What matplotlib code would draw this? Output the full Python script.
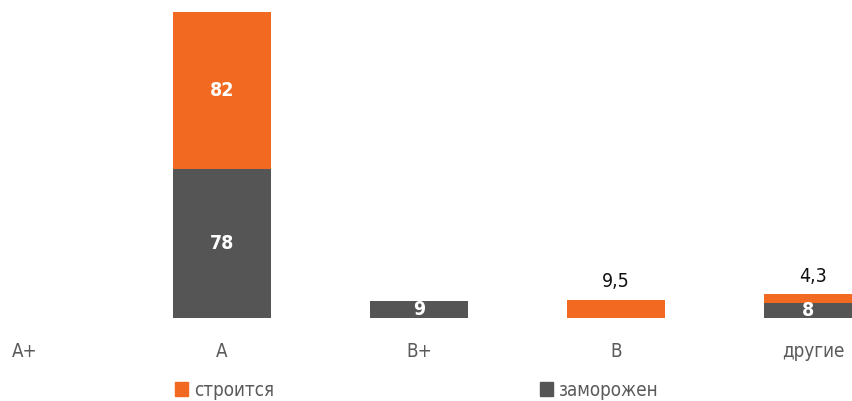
import matplotlib.pyplot as plt
from matplotlib.patches import Patch

categories = ["A+", "A", "B+", "B", "другие"]
frozen = [0, 78, 9, 0, 8]          # заморожен
building = [0, 82, 0, 9.5, 4.3]    # строится

ORANGE = "#F26A22"
GRAY = "#555555"
FONT = dict(family="DejaVu Sans", stretch="condensed")


def fmt(v):
    return "" if v == 0 else f"{v:g}".replace(".", ",")


fig = plt.figure(figsize=(8.52, 4.01), dpi=100)
ax = fig.add_axes([0, 1 - 318 / 401, 1, 306 / 401])

x = range(len(categories))
b1 = ax.bar(x, frozen, width=0.5, color=GRAY)
b2 = ax.bar(x, building, width=0.5, bottom=frozen, color=ORANGE)

ax.bar_label(b1, labels=[fmt(v) for v in frozen], label_type="center",
             color="white", fontsize=14, fontweight="bold", **FONT)
# large orange segments get a label inside, small ones above the bar
inner = [fmt(v) if v > 20 else "" for v in building]
outer = [fmt(v) if 0 < v <= 20 else "" for v in building]
ax.bar_label(b2, labels=inner, label_type="center",
             color="white", fontsize=14, fontweight="bold", **FONT)
ax.bar_label(b2, labels=outer, label_type="edge", padding=6,
             color="#111111", fontsize=14, **FONT)

ax.set_xlim(-0.127, 4.198)
ax.set_ylim(0, 160)
ax.set_xticks(list(x))
ax.set_xticklabels(categories, fontsize=13.5, color="#5a5a5a", **FONT)
ax.tick_params(axis="x", length=0, pad=17)
ax.set_yticks([])
for s in ax.spines.values():
    s.set_visible(False)

handles = [Patch(color=ORANGE, label="строится"),
           Patch(color=GRAY, label="заморожен")]
leg = fig.legend(handles=handles, loc="center", ncol=2,
                 bbox_to_anchor=(417 / 852, 1 - 390 / 401),
                 frameon=False, handlelength=0.7, handleheight=0.7,
                 handletextpad=0.3, columnspacing=14.2,
                 prop={**FONT, "size": 13.5})
for t in leg.get_texts():
    t.set_color("#5a5a5a")

fig.savefig("out.png", dpi=100)
